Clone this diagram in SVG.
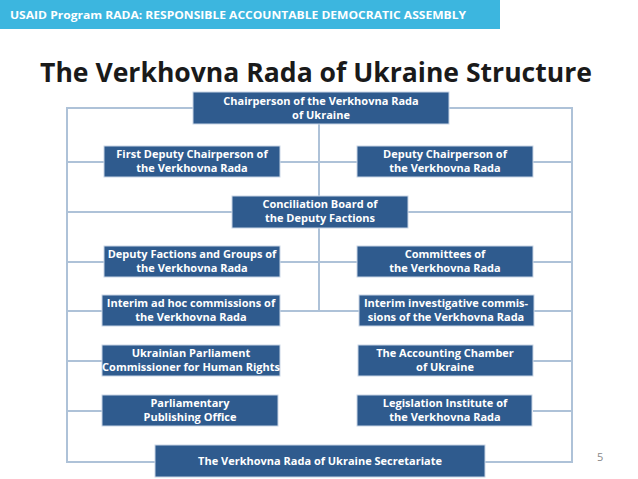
<svg xmlns="http://www.w3.org/2000/svg" width="638" height="479" viewBox="0 0 638 479">
<style>
.b{fill:#2f5b8e;stroke:#c9d6e6;stroke-width:1}
.t{font-family:"Open Sans","Liberation Sans",sans-serif;font-weight:bold;font-size:11px;fill:#fff;text-anchor:middle}
.c{stroke:#aec2d8;stroke-width:2;fill:none}
</style>
<rect width="638" height="479" fill="#fff"/>
<rect x="0" y="0" width="500" height="29" fill="#3cb6df"/>
<text x="10" y="19" font-family="Open Sans, Liberation Sans, sans-serif" font-weight="bold" font-size="11" fill="#fff" textLength="456" lengthAdjust="spacingAndGlyphs">USAID Program RADA: RESPONSIBLE ACCOUNTABLE DEMOCRATIC ASSEMBLY</text>
<text x="40" y="82" font-family="Open Sans, Liberation Sans, sans-serif" font-weight="bold" font-size="26" fill="#1a1a1a" textLength="552" lengthAdjust="spacingAndGlyphs">The Verkhovna Rada of Ukraine Structure</text>
<text x="597" y="461" font-family="Open Sans, Liberation Sans, sans-serif" font-size="11" fill="#888">5</text>
<g id="connectors" class="c">
<path d="M193 108H67V462H155M449 108H572V462H485"/>
<path d="M67 162H104M280 162H357M533 162H572"/>
<path d="M67 212H232M408 212H572"/>
<path d="M67 262H104M280 262H357M533 262H572"/>
<path d="M67 311H104M280 311H360M533 311H572"/>
<path d="M67 361H104M533 361H572"/>
<path d="M67 411H104M533 411H572"/>
<path d="M319 124V311"/>
</g>
<g id="n1"><rect class="b" x="193" y="92" width="256" height="32"/><text class="t" x="321" y="105">Chairperson of the Verkhovna Rada</text><text class="t" x="321" y="119">of Ukraine</text></g>
<g id="n2"><rect class="b" x="104" y="146" width="176" height="31"/><text class="t" x="192" y="158">First Deputy Chairperson of</text><text class="t" x="192" y="172">the Verkhovna Rada</text></g>
<g id="n3"><rect class="b" x="357" y="146" width="176" height="31"/><text class="t" x="445" y="158">Deputy Chairperson of</text><text class="t" x="445" y="172">the Verkhovna Rada</text></g>
<g id="n4"><rect class="b" x="232" y="196" width="176" height="32"/><text class="t" x="320" y="208">Conciliation Board of</text><text class="t" x="320" y="222">the Deputy Factions</text></g>
<g id="n5"><rect class="b" x="104" y="246" width="176" height="31"/><text class="t" x="192" y="258">Deputy Factions and Groups of</text><text class="t" x="192" y="272">the Verkhovna Rada</text></g>
<g id="n6"><rect class="b" x="357" y="246" width="176" height="31"/><text class="t" x="445" y="258">Committees of</text><text class="t" x="445" y="272">the Verkhovna Rada</text></g>
<g id="n7"><rect class="b" x="102" y="295" width="178" height="31"/><text class="t" x="191" y="307">Interim ad hoc commissions of</text><text class="t" x="191" y="321">the Verkhovna Rada</text></g>
<g id="n8"><rect class="b" x="359" y="295" width="175" height="31"/><text class="t" x="446" y="307">Interim investigative commis-</text><text class="t" x="446" y="321">sions of the Verkhovna Rada</text></g>
<g id="n9"><rect class="b" x="102" y="345" width="178" height="31"/><text class="t" x="191" y="357">Ukrainian Parliament</text><text class="t" x="191" y="371">Commissioner for Human Rights</text></g>
<g id="n10"><rect class="b" x="358" y="345" width="175" height="31"/><text class="t" x="445" y="357">The Accounting Chamber</text><text class="t" x="445" y="371">of Ukraine</text></g>
<g id="n11"><rect class="b" x="102" y="395" width="176" height="31"/><text class="t" x="190" y="407">Parliamentary</text><text class="t" x="190" y="421">Publishing Office</text></g>
<g id="n12"><rect class="b" x="357" y="395" width="175" height="31"/><text class="t" x="445" y="407">Legislation Institute of</text><text class="t" x="445" y="421">the Verkhovna Rada</text></g>
<g id="n13"><rect class="b" x="155" y="445" width="330" height="32"/><text class="t" x="320" y="465">The Verkhovna Rada of Ukraine Secretariate</text></g>
</svg>
